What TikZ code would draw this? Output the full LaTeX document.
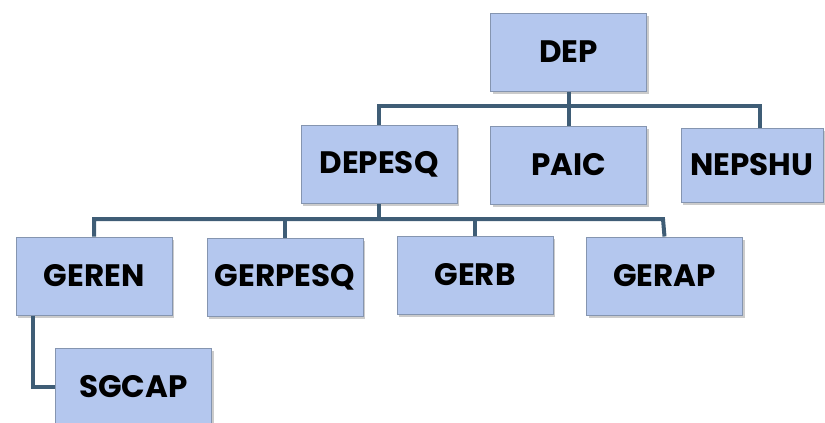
\documentclass[tikz,border=0pt]{standalone}
\usepackage{fontspec}
\setmainfont{Poppins}
\usetikzlibrary{shadows,calc}
\definecolor{boxfill}{HTML}{B4C7EE}
\definecolor{boxline}{HTML}{8595B0}
\definecolor{conncol}{HTML}{3F5D76}
\tikzset{
  orgbox/.style={draw=boxline, line width=1pt, fill=boxfill, minimum width=156pt, minimum height=78pt,
    inner sep=0pt, font=\fontsize{31}{32}\selectfont\bfseries, text=black,
    drop shadow={shadow xshift=2pt, shadow yshift=-2.5pt, fill=black!45, opacity=0.45}},
  conn/.style={draw=conncol, line width=4pt}
}
\begin{document}
\begin{tikzpicture}[x=1pt,y=-1pt]
\useasboundingbox (0,0) rectangle (825,423);
% connector points
\coordinate (b1) at (379,106);
\coordinate (b2) at (760,106);
\coordinate (c1) at (93,219);
\coordinate (c2) at (663,219);
% boxes
\node[orgbox] (DEP) at (568.5,52) {DEP};
\node[orgbox] (DEPESQ) at (379,164.5) {DEPESQ};
\node[orgbox] (PAIC) at (568.5,165) {PAIC};
\node[orgbox, minimum width=142pt, minimum height=74pt] (NEPSHU) at (752,165) {NEPSHU};
\node[orgbox] (GEREN) at (94,276) {GEREN};
\node[orgbox] (GERPESQ) at (285,277) {GERPESQ};
\node[orgbox] (GERB) at (475,275) {GERB};
\node[orgbox] (GERAP) at (664.5,276) {GERAP};
\node[orgbox] (SGCAP) at (133.5,387) {SGCAP};
% connectors
\draw[conn] (DEP.south) -- (PAIC.north);
\draw[conn] (DEPESQ.north) -- (b1) -- (b2) -- (b2 |- NEPSHU.north);
\draw[conn] (DEPESQ.south) -- (DEPESQ.south |- c1);
\draw[conn] (GEREN.north) -- (GEREN.north |- c1) -- (c2) -- (GERAP.north);
\draw[conn] (GERPESQ.north) -- (GERPESQ.north |- c1);
\draw[conn] (GERB.north) -- (GERB.north |- c1);
\draw[conn] ($(GEREN.south west)+(17,0)$) |- (SGCAP.west);
\end{tikzpicture}
\end{document}
